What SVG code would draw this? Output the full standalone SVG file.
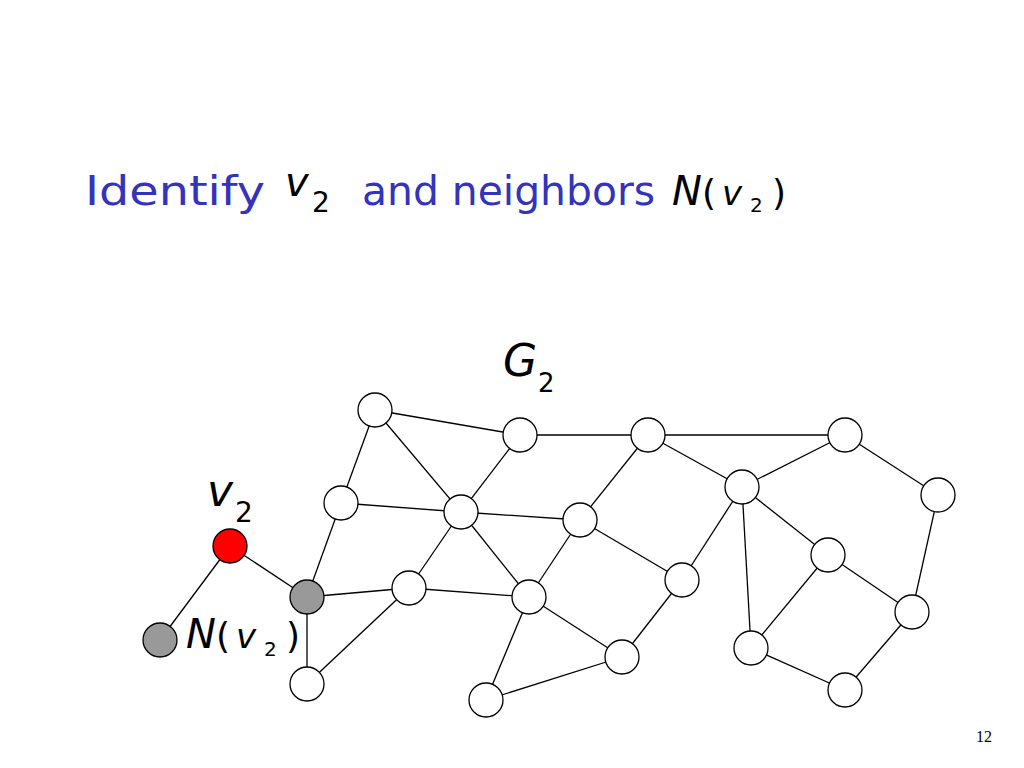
<svg xmlns="http://www.w3.org/2000/svg" width="1024" height="768" viewBox="0 0 1024 768">
<style>
.e line{stroke:#000;stroke-width:1.3}
.n{fill:#fff;stroke:#000;stroke-width:1.3}
.b{font-family:"DejaVu Sans",sans-serif;font-size:40px;fill:#3333bb}
.m{font-family:"DejaVu Sans",sans-serif;fill:#000}
</style>
<rect width="1024" height="768" fill="#fff"/>
<text x="85" y="205" class="b" textLength="180" lengthAdjust="spacingAndGlyphs">Identify</text>
<text x="285" y="196" class="m" font-size="40" font-style="italic">v</text>
<text x="312" y="212" class="m" font-size="28">2</text>
<text x="362" y="205" class="b" textLength="293" lengthAdjust="spacingAndGlyphs">and neighbors</text>
<text x="672" y="205" class="m" font-size="40" font-style="italic">N</text>
<text x="702" y="205" class="m" font-size="36">(</text>
<text x="722" y="205" class="m" font-size="34" font-style="italic">v</text>
<text x="750" y="212" class="m" font-size="20">2</text>
<text x="772" y="205" class="m" font-size="36">)</text>
<text x="503" y="376" class="m" font-size="44" font-style="italic">G</text>
<text x="538" y="392" class="m" font-size="26">2</text>
<text x="207" y="506" class="m" font-size="44" font-style="italic">v</text>
<text x="235" y="522" class="m" font-size="28">2</text>
<text x="186" y="648" class="m" font-size="40" font-style="italic">N</text>
<text x="216" y="648" class="m" font-size="36">(</text>
<text x="236" y="648" class="m" font-size="34" font-style="italic">v</text>
<text x="264" y="656" class="m" font-size="20">2</text>
<text x="286" y="648" class="m" font-size="36">)</text>
<text x="976" y="742" font-family="Liberation Serif,serif" font-size="16">12</text>
<g id="connectors" class="e">
<line x1="375" y1="410" x2="520" y2="435"/>
<line x1="375" y1="410" x2="341" y2="503"/>
<line x1="375" y1="410" x2="461" y2="512"/>
<line x1="520" y1="435" x2="461" y2="512"/>
<line x1="520" y1="435" x2="648" y2="435"/>
<line x1="648" y1="435" x2="845" y2="435"/>
<line x1="648" y1="435" x2="580" y2="520"/>
<line x1="648" y1="435" x2="742" y2="487"/>
<line x1="845" y1="435" x2="742" y2="487"/>
<line x1="845" y1="435" x2="938" y2="495"/>
<line x1="938" y1="495" x2="912" y2="612"/>
<line x1="742" y1="487" x2="682" y2="580"/>
<line x1="742" y1="487" x2="751" y2="648"/>
<line x1="742" y1="487" x2="828" y2="555"/>
<line x1="341" y1="503" x2="461" y2="512"/>
<line x1="341" y1="503" x2="307" y2="597"/>
<line x1="461" y1="512" x2="580" y2="520"/>
<line x1="461" y1="512" x2="409" y2="588"/>
<line x1="461" y1="512" x2="529" y2="597"/>
<line x1="580" y1="520" x2="529" y2="597"/>
<line x1="580" y1="520" x2="682" y2="580"/>
<line x1="230" y1="546" x2="307" y2="597"/>
<line x1="230" y1="546" x2="160" y2="640"/>
<line x1="307" y1="597" x2="409" y2="588"/>
<line x1="307" y1="597" x2="307" y2="684"/>
<line x1="409" y1="588" x2="529" y2="597"/>
<line x1="409" y1="588" x2="307" y2="684"/>
<line x1="529" y1="597" x2="622" y2="657"/>
<line x1="529" y1="597" x2="486" y2="700"/>
<line x1="486" y1="700" x2="622" y2="657"/>
<line x1="682" y1="580" x2="622" y2="657"/>
<line x1="828" y1="555" x2="751" y2="648"/>
<line x1="828" y1="555" x2="912" y2="612"/>
<line x1="751" y1="648" x2="845" y2="690"/>
<line x1="845" y1="690" x2="912" y2="612"/>
</g>
<g id="nA"><circle class="n" cx="375" cy="410" r="17"/></g>
<g id="nB"><circle class="n" cx="520" cy="435" r="17"/></g>
<g id="nC"><circle class="n" cx="648" cy="435" r="17"/></g>
<g id="nD"><circle class="n" cx="845" cy="435" r="17"/></g>
<g id="nE"><circle class="n" cx="742" cy="487" r="17"/></g>
<g id="nF"><circle class="n" cx="938" cy="495" r="17"/></g>
<g id="nG"><circle class="n" cx="341" cy="503" r="17"/></g>
<g id="nH"><circle class="n" cx="461" cy="512" r="17"/></g>
<g id="nI"><circle class="n" cx="580" cy="520" r="17"/></g>
<g id="nJ"><circle class="n" cx="828" cy="555" r="17"/></g>
<g id="v2"><circle cx="230" cy="546" r="17" fill="#ff0000" stroke="#000" stroke-width="1.3"/></g>
<g id="nL"><circle cx="307" cy="597" r="17" fill="#999" stroke="#000" stroke-width="1.3"/></g>
<g id="nM"><circle class="n" cx="409" cy="588" r="17"/></g>
<g id="nN"><circle class="n" cx="529" cy="597" r="17"/></g>
<g id="nO"><circle class="n" cx="682" cy="580" r="17"/></g>
<g id="nP"><circle class="n" cx="912" cy="612" r="17"/></g>
<g id="nQ"><circle cx="160" cy="640" r="17" fill="#999" stroke="#000" stroke-width="1.3"/></g>
<g id="nR"><circle class="n" cx="622" cy="657" r="17"/></g>
<g id="nS"><circle class="n" cx="751" cy="648" r="17"/></g>
<g id="nT"><circle class="n" cx="307" cy="684" r="17"/></g>
<g id="nU"><circle class="n" cx="486" cy="700" r="17"/></g>
<g id="nV"><circle class="n" cx="845" cy="690" r="17"/></g>
</svg>
